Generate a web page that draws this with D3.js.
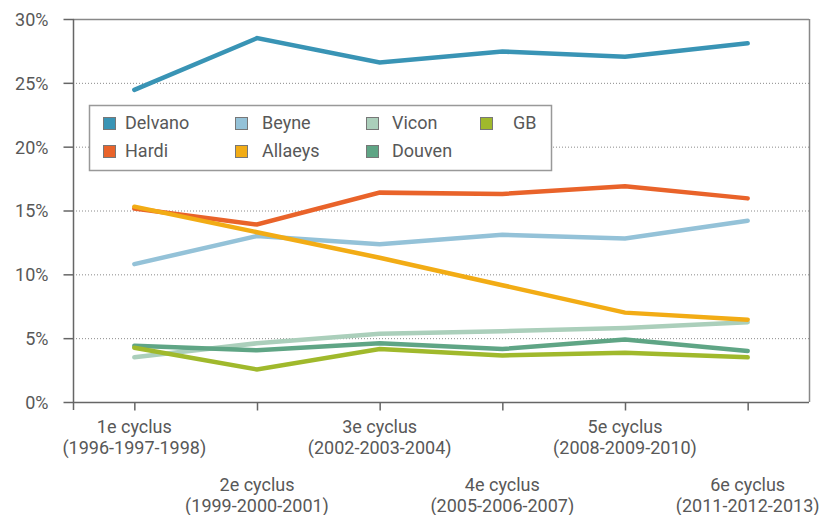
<!DOCTYPE html>
<html>
<head>
<meta charset="utf-8">
<script src="https://cdn.jsdelivr.net/npm/d3@7"></script>
<style>
body{margin:0;background:#fff;}
text{font-family:Roboto,"DejaVu Sans",sans-serif;fill:#585858;}
</style>
</head>
<body>
<svg id="chart" width="820" height="515"></svg>
<script>
// categorieen (cycli)
var cycli = ["1e cyclus","2e cyclus","3e cyclus","4e cyclus","5e cyclus","6e cyclus"];
var jaren = ["(1996-1997-1998)","(1999-2000-2001)","(2002-2003-2004)","(2005-2006-2007)","(2008-2009-2010)","(2011-2012-2013)"];
var yTicks = [0,5,10,15,20,25,30];

// marktaandeel per merk (%)
var delvano = [24.45,28.5,26.6,27.45,27.05,28.1];
var hardi   = [15.15,13.9,16.4,16.3,16.9,15.95];
var beyne   = [10.8,13.0,12.35,13.1,12.8,14.2];
var allaeys = [15.3,13.3,11.3,9.15,7.0,6.45];
var vicon   = [3.5,4.6,5.35,5.55,5.8,6.25];
var douven  = [4.4,4.05,4.6,4.15,4.9,4.0];
var gb      = [4.25,2.55,4.15,3.65,3.85,3.5];

var series = [
  {name:"Vicon",   values:vicon,   color:"#abcfbb"},
  {name:"Douven",  values:douven,  color:"#5fa585"},
  {name:"GB",      values:gb,      color:"#a0b92c"},
  {name:"Beyne",   values:beyne,   color:"#94c2d8"},
  {name:"Hardi",   values:hardi,   color:"#e9632a"},
  {name:"Allaeys", values:allaeys, color:"#f2ac15"},
  {name:"Delvano", values:delvano, color:"#3994b5"}
];
// legenda volgorde (kolommen)
var legendOrder = [["Delvano","Hardi"],["Beyne","Allaeys"],["Vicon","Douven"],["GB"]];

var svg = d3.select("#chart");
var pLeft = 73, pRight = 809, pTop = 19, pBottom = 402;

var x = d3.scalePoint().domain(cycli).range([pLeft,pRight]).padding(0.5);
var y = d3.scaleLinear().domain([0,30]).range([pBottom,pTop]);

//gridlijnen
svg.append("g").selectAll("line").data(yTicks.filter(function(d){return d>0 && d<30;}))
  .enter().append("line")
  .attr("x1",pLeft).attr("x2",pRight)
  .attr("y1",function(d){return y(d)+0.5;}).attr("y2",function(d){return y(d)+0.5;})
  .attr("stroke","#8a8a8a").attr("stroke-width",1).attr("stroke-dasharray","1,2");

// kader boven en rechts
svg.append("line").attr("x1",pLeft).attr("x2",pRight).attr("y1",y(30)+0.5).attr("y2",y(30)+0.5)
  .attr("stroke","#888").attr("stroke-width",1.5);
svg.append("line").attr("x1",pRight+0.5).attr("x2",pRight+0.5).attr("y1",y(30)).attr("y2",pBottom)
  .attr("stroke","#888").attr("stroke-width",1.5);

// y-as
var yAxis = svg.append("g").attr("transform","translate("+(pLeft+0.5)+",0)")
  .call(d3.axisLeft(y).tickValues(yTicks).tickSize(10).tickPadding(15).tickFormat(function(d){return d+"%";}));
yAxis.select(".domain").attr("stroke","#666").attr("stroke-width",1.5).attr("d","M0,"+y(30)+"V"+(pBottom+8));
yAxis.selectAll(".tick line").attr("stroke","#666").attr("stroke-width",1.5);
yAxis.selectAll(".tick text").attr("font-size",18).attr("dy","0.36em").style("font-family","Roboto").attr("fill","#585858");

// x-as
var xAxis = svg.append("g").attr("transform","translate(0,"+(pBottom+0.5)+")")
  .call(d3.axisBottom(x).tickSize(8).tickFormat(""));
xAxis.select(".domain").attr("stroke","#666").attr("stroke-width",1.5).attr("d","M"+pLeft+",0H"+pRight);
xAxis.selectAll(".tick line").attr("stroke","#666").attr("stroke-width",1.5);

var labels = svg.append("g").selectAll("text").data(cycli).enter().append("text")
  .attr("text-anchor","middle").attr("font-size",18)
  .attr("transform",function(d,i){return "translate("+x(d)+","+(i%2==0?433:491)+")";});
labels.append("tspan").attr("x",0).attr("y",0).text(function(d){return d;});
labels.append("tspan").attr("x",0).attr("y",21).text(function(d,i){return jaren[i];});

// lijnen
var line = d3.line().x(function(d,i){return x(cycli[i]);}).y(function(d){return y(d);});
svg.append("g").selectAll("path").data(series).enter().append("path")
  .attr("d",function(d){return line(d.values);})
  .attr("fill","none").attr("stroke",function(d){return d.color;})
  .attr("stroke-width",4.5).attr("stroke-linecap","round").attr("stroke-linejoin","miter");

// legenda
var colX = [103,235,366,480], txtX = [125,262,392,513], rowY = [117,145];
var lg = svg.append("g");
lg.append("rect").attr("x",89.5).attr("y",105.5).attr("width",462).attr("height",65)
  .attr("fill","#fff").attr("stroke","#999").attr("stroke-width",1.5);
legendOrder.forEach(function(col,c){
  col.forEach(function(name,r){
    var s = series.filter(function(d){return d.name==name;})[0];
    lg.append("rect").attr("x",colX[c]+0.5).attr("y",rowY[r]+0.5).attr("width",12).attr("height",12)
      .attr("fill",s.color).attr("stroke","#777").attr("stroke-width",1);
    lg.append("text").attr("x",txtX[c]).attr("y",rowY[r]+12).attr("font-size",18).text(name);
  });
});
</script>
</body>
</html>
